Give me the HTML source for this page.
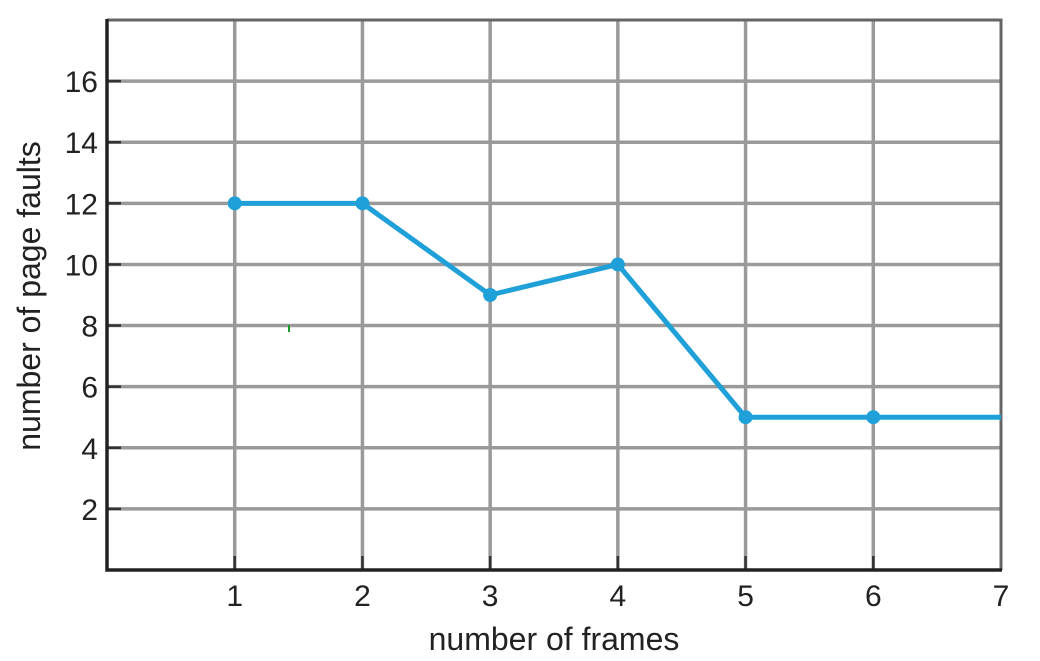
<!DOCTYPE html>
<html><head><meta charset="utf-8"><style>
html,body{margin:0;padding:0;background:#fff;}
svg{display:block;font-family:"Liberation Sans",Arial,sans-serif;}
</style></head><body>
<svg id="chart" width="1040" height="661" viewBox="0 0 1040 661">
<g id="grid"></g>
<g id="axes"></g>
<g id="series"></g>
<text x="554" y="650" font-size="32" text-anchor="middle" fill="#222">number of frames</text>
<text transform="translate(40,296) rotate(-90)" font-size="32" text-anchor="middle" fill="#222">number of page faults</text>
<rect x="288" y="325" width="2" height="7" fill="#1a9a2a"/>
</svg>
<script>
const frames = [1, 2, 3, 4, 5, 6, 7];
const faults = [12, 12, 9, 10, 5, 5, 5];
const xTicks = [1, 2, 3, 4, 5, 6, 7];
const yTicks = [2, 4, 6, 8, 10, 12, 14, 16];

const X0 = 107, X1 = 1001, Y0 = 570, Y1 = 20;
const xMax = 7, yMax = 18;
const sx = v => X0 + (v - 0) * (X1 - X0) / xMax;
const sy = v => Y0 - v * (Y0 - Y1) / yMax;
const NS = 'http://www.w3.org/2000/svg';
function mk(tag, attrs, parent) {
  const e = document.createElementNS(NS, tag);
  for (const k in attrs) e.setAttribute(k, attrs[k]);
  parent.appendChild(e);
  return e;
}
const grid = document.getElementById('grid');
const axes = document.getElementById('axes');
const series = document.getElementById('series');

yTicks.forEach(t => {
  const l = mk('line', {x1: X0, x2: X1, y1: sy(t), y2: sy(t), stroke: '#9a9a9a', 'stroke-width': 3.5}, grid);
  
  
  const tk = mk('line', {x1: X0, x2: X0 + 14, y1: sy(t), y2: sy(t), stroke: '#333', 'stroke-width': 2.5}, axes);
  
  
  const tx = mk('text', {x: X0 - 9, y: sy(t) + 11, 'font-size': 30, 'text-anchor': 'end', fill: '#222'}, axes);
  tx.textContent = t;
  
  
});
xTicks.forEach(t => {
  if (t < xMax) {
    const l = mk('line', {x1: sx(t), x2: sx(t), y1: Y1, y2: Y0, stroke: '#9a9a9a', 'stroke-width': 3.5}, grid);
    
    
  }
  const tk = mk('line', {x1: sx(t), x2: sx(t), y1: Y0 - 14, y2: Y0, stroke: '#333', 'stroke-width': 2.5}, axes);
  
  
  const tx = mk('text', {x: sx(t), y: Y0 + 36, 'font-size': 30, 'text-anchor': 'middle', fill: '#222'}, axes);
  tx.textContent = t;
  
  
});
const frame = mk('path', {d: `M${X0},${Y1} H${X1} V${Y0}`, fill: 'none', stroke: '#666', 'stroke-width': 3}, axes);


const ax = mk('path', {d: `M${X0},${Y1 - 1} V${Y0} H${X1 + 1}`, fill: 'none', stroke: '#222', 'stroke-width': 3.5}, axes);



const pts = frames.map((f, i) => sx(f) + ',' + sy(faults[i])).join(' ');
const line = mk('polyline', {points: pts, fill: 'none', stroke: '#1fa0d8', 'stroke-width': 5, 'stroke-linejoin': 'round'}, series);


frames.forEach((f, i) => {
  if (f >= xMax) return;
  const c = mk('circle', {cx: sx(f), cy: sy(faults[i]), r: 7, fill: '#1fa0d8'}, series);
  
  
});
</script>
</body></html>
